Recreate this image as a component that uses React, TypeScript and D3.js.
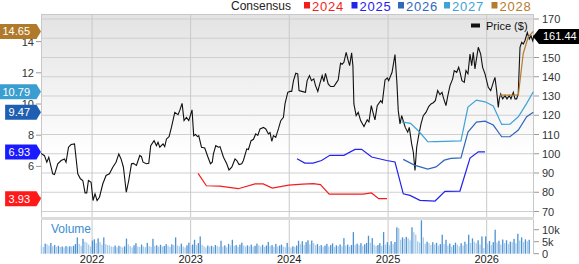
import React from "react";
import * as d3 from "d3";

// ---------- DATA ----------
const priceT = [
  2021.483, 2021.517, 2021.541, 2021.561, 2021.601, 2021.619, 2021.652, 2021.686, 2021.72, 2021.736,
  2021.761, 2021.787, 2021.822, 2021.855, 2021.882, 2021.906, 2021.929, 2021.946, 2021.963, 2021.99,
  2022.01, 2022.03, 2022.051, 2022.075, 2022.109, 2022.142, 2022.176, 2022.21, 2022.243, 2022.271,
  2022.294, 2022.318, 2022.347, 2022.372, 2022.4, 2022.418, 2022.45, 2022.484, 2022.501, 2022.517,
  2022.552, 2022.575, 2022.595, 2022.629, 2022.653, 2022.669, 2022.687, 2022.72, 2022.737, 2022.755,
  2022.781, 2022.805, 2022.839, 2022.872, 2022.889, 2022.913, 2022.933, 2022.957, 2022.981, 2023.014,
  2023.031, 2023.049, 2023.069, 2023.082, 2023.11, 2023.143, 2023.176, 2023.201, 2023.219, 2023.231,
  2023.255, 2023.282, 2023.298, 2023.333, 2023.366, 2023.389, 2023.417, 2023.45, 2023.468, 2023.491,
  2023.518, 2023.535, 2023.569, 2023.586, 2023.613, 2023.637, 2023.66, 2023.681, 2023.704, 2023.738,
  2023.762, 2023.789, 2023.805, 2023.823, 2023.84, 2023.863, 2023.89, 2023.914, 2023.941, 2023.957,
  2023.985, 2024.008, 2024.025, 2024.043, 2024.066, 2024.086, 2024.099, 2024.127, 2024.164, 2024.181,
  2024.205, 2024.225, 2024.248, 2024.266, 2024.289, 2024.309, 2024.333, 2024.35, 2024.367, 2024.394,
  2024.418, 2024.451, 2024.469, 2024.495, 2024.519, 2024.535, 2024.553, 2024.576, 2024.596, 2024.611,
  2024.631, 2024.644, 2024.654, 2024.677, 2024.698, 2024.722, 2024.756, 2024.789, 2024.806, 2024.83,
  2024.847, 2024.867, 2024.89, 2024.925, 2024.941, 2024.969, 2024.992, 2025.006, 2025.04, 2025.07,
  2025.09, 2025.103, 2025.121, 2025.138, 2025.154, 2025.174, 2025.199, 2025.215, 2025.239, 2025.256,
  2025.273, 2025.29, 2025.31, 2025.334, 2025.357, 2025.384, 2025.412, 2025.435, 2025.458, 2025.479,
  2025.503, 2025.526, 2025.547, 2025.56, 2025.587, 2025.604, 2025.628, 2025.655, 2025.671, 2025.696,
  2025.716, 2025.729, 2025.749, 2025.773, 2025.79, 2025.81, 2025.831, 2025.848, 2025.864, 2025.881,
  2025.899, 2025.915, 2025.939, 2025.959, 2025.983, 2026.016, 2026.041, 2026.067, 2026.084, 2026.101,
  2026.118, 2026.128, 2026.142, 2026.162, 2026.186, 2026.206, 2026.229, 2026.246, 2026.27, 2026.287,
  2026.304, 2026.32, 2026.338, 2026.355, 2026.371, 2026.388, 2026.412, 2026.432, 2026.449, 2026.467,
  2026.48,
];
const priceV = [
  100.2, 99, 95.6, 98.2, 89.6, 89.2, 94.8, 96.5, 97.3, 95.6,
  103.4, 104.8, 105.1, 89.6, 87, 86.1, 79.7, 79.7, 86.1, 85.2,
  75.7, 79.2, 75.7, 77.4, 84.4, 88.7, 89.6, 93, 95.6, 99.9,
  97.3, 93, 80, 86.1, 94.8, 95, 93.9, 99.1, 98.5, 95.6,
  94.8, 95, 104.2, 106.8, 104.2, 106, 103.4, 105.1, 103.7, 107.7,
  108.9, 113.7, 121.5, 120.3, 122.4, 126.2, 117.2, 118.9, 117.2, 122.8,
  109.4, 110, 108.9, 109.4, 103.4, 103, 98.2, 94.8, 95.6, 99.9,
  104.2, 103.4, 103.7, 98.2, 94.8, 91.6, 93, 97.3, 96.5, 94.4,
  94.8, 96.5, 102.5, 102.2, 106.8, 107.5, 110.3, 109.5, 112.9, 113.7,
  112.9, 110.3, 111, 106.5, 109.4, 108.5, 112.9, 117.2, 118.9, 125.9,
  131.9, 132.4, 132.4, 138, 141.8, 141.5, 132.8, 132.4, 131.9, 138,
  140.6, 138, 138.9, 135.4, 132.4, 136.3, 140.6, 137.5, 141.8, 136.3,
  134.9, 134.9, 136.3, 138.3, 147, 146.5, 147.5, 152.7, 148.5, 145.8,
  152.4, 145.8, 125.9, 119.8, 121.5, 117.2, 114.1, 117.6, 116.5, 125,
  121.5, 117.6, 125, 127.6, 126.5, 138.3, 139.4, 138, 142.3, 151.5,
  136.3, 122.4, 115.5, 119.8, 117, 113.7, 111.2, 113.7, 105.1, 100.8,
  91.3, 103.4, 109.4, 115.5, 119.8, 121.5, 124.5, 125.9, 126.5, 127.6,
  132.8, 130.7, 131.9, 129.3, 125, 129.7, 135.4, 138.9, 143.2, 142.3,
  144.9, 142.5, 138, 137.1, 143.2, 141.5, 151.8, 145.8, 152.7, 144.1,
  150.1, 155.3, 151.8, 144.9, 141.5, 134.5, 132.8, 137.1, 139.7, 132.8,
  124.1, 128.5, 131.1, 128.5, 130.2, 128.5, 130.2, 128.5, 131.9, 128.5,
  128.5, 131.1, 155.3, 157.9, 157, 158.7, 163, 159.6, 161.3, 158.7,
  161.44,
];

const eps2024T = [2023.075, 2023.16, 2023.295, 2023.483, 2023.653, 2023.736, 2023.828, 2023.995, 2024.137, 2024.243, 2024.316, 2024.404, 2024.573, 2024.745, 2024.832, 2024.905, 2024.989];
const eps2024V = [5.55, 4.76, 4.73, 4.57, 4.88, 4.88, 4.61, 4.8, 4.87, 4.89, 4.83, 4.22, 4.22, 4.22, 4.3, 3.93, 3.93];
const eps2025T = [2024.079, 2024.157, 2024.241, 2024.327, 2024.411, 2024.553, 2024.665, 2024.732, 2024.834, 2024.986, 2025.07, 2025.154, 2025.222, 2025.323, 2025.476, 2025.577, 2025.729, 2025.831, 2025.915, 2025.983];
const eps2025V = [6.49, 6.21, 6.21, 6.38, 6.71, 6.71, 7.09, 7.09, 6.6, 6.38, 6.28, 4.24, 4.14, 3.82, 3.78, 4.4, 4.42, 6.53, 6.93, 6.93];
const eps2026T = [2025.154, 2025.266, 2025.402, 2025.486, 2025.57, 2025.638, 2025.739, 2025.81, 2025.896, 2025.983, 2026.067, 2026.152, 2026.236, 2026.321, 2026.406, 2026.473];
const eps2026V = [6.45, 6.08, 5.83, 5.97, 6.4, 6.51, 6.55, 8.2, 8.84, 8.9, 8.65, 7.9, 7.9, 8.33, 9.18, 9.47];
const eps2027T = [2025.137, 2025.228, 2025.316, 2025.402, 2025.486, 2025.739, 2025.81, 2025.896, 2025.983, 2026.067, 2026.152, 2026.236, 2026.321, 2026.406, 2026.473];
const eps2027V = [8.86, 8.76, 8.22, 7.58, 7.59, 7.64, 9.8, 10.25, 10.14, 9.87, 8.69, 8.71, 9.18, 10.04, 10.79];
const eps2028T = [2026.135, 2026.321, 2026.371, 2026.422, 2026.473];
const eps2028V = [10.57, 10.57, 13.24, 14.31, 14.65];

const seriesNames = ["2024", "2025", "2026", "2027", "2028"];
const seriesColors = ["#f41d1d", "#2323ee", "#2f68bd", "#3ea3d6", "#b57c2c"];
const tagColors = ["#ff1a1a", "#1a1aff", "#1f5fb3", "#3a9ed0", "#b07a2a"];
const tagValues = [3.93, 6.93, 9.47, 10.79, 14.65];
const lastPrice = 161.44;

// weekly volume (thousands), first week starting 2021-06-25
const volumeStart = new Date(2021, 5, 25);
const volume = [
  3.5, 2.8, 4.2, 3.9, 3.4, 4.5, 3.1, 3.6, 2.9, 3.3,
  2.8, 3.0, 2.6, 3.2, 2.9, 3.1, 3.0, 3.3, 4.0, 6.8,
  4.1, 3.3, 6.2, 5.0, 4.6, 3.8, 3.0, 5.5, 6.0, 4.4, 6.4, 4.9, 3.8, 6.8,
  4.0, 3.6, 3.5, 3.0, 2.9, 3.4, 2.7, 3.3, 3.0, 2.6, 3.1, 6.3,
  3.9, 3.2, 2.6, 3.5, 4.4, 3.0, 2.8, 3.8, 3.0, 2.7, 4.5, 3.1, 2.9, 6.2,
  3.3, 3.5, 2.9, 3.7, 3.0, 3.2, 4.0, 3.4, 2.8, 3.9, 3.6, 6.8,
  3.4, 3.1, 4.2, 3.0, 2.6, 3.5, 4.6, 3.3, 3.8, 5.8, 3.6, 4.4, 7.2,
  3.7, 3.1, 2.6, 3.4, 3.0, 3.3, 2.8, 3.6, 3.2, 2.9, 5.4,
  3.0, 3.5, 2.7, 4.1, 3.4, 5.8, 3.2, 3.6, 2.9, 3.8, 4.6, 3.4, 3.0, 3.5, 3.1,
  3.8, 2.9, 3.3, 4.2, 3.5, 3.0, 3.7, 2.8, 3.4, 4.9, 3.2, 3.6, 2.9, 4.1, 3.0, 3.4, 3.8, 3.0, 2.7, 4.5,
  2.9, 2.6, 3.1, 2.8, 3.4, 5.4, 4.0, 5.2,
  3.6, 4.8, 5.6, 3.9, 5.5, 4.4, 3.5, 4.0, 3.2, 3.6,
  2.9, 3.4, 4.1, 3.0, 3.6, 4.3, 2.8, 3.5, 3.2, 3.9, 3.1, 6.5,
  3.4, 3.8, 3.0, 3.6, 9.0, 3.7, 4.2, 3.5, 4.4, 3.3, 3.9, 4.5, 7.5, 4.6, 6.5,
  3.8, 3.2, 3.6, 4.4, 3.3, 9.0, 3.8, 4.8, 3.5, 5.2, 4.0, 4.9, 11.0, 10.6,
  5.8, 6.8, 6.3, 7.0, 6.4, 5.6, 11.0, 9.0, 8.0, 5.2, 4.6, 13.9, 6.8,
  4.2, 5.0, 4.4, 3.6, 4.8, 3.9, 4.5, 3.4, 4.0, 7.9, 4.0, 5.8,
  3.4, 4.2, 2.9, 3.6, 4.6, 3.8, 3.1, 4.4, 3.4, 5.0, 4.0, 7.9, 4.5, 6.4, 5.0,
  4.4, 5.6, 3.8, 7.2, 2.4, 7.2, 4.2, 5.3, 3.6, 4.8, 10.0,
  4.6, 5.4, 3.8, 5.9, 4.4, 5.6, 4.0, 5.0, 4.8, 6.2, 4.4, 8.3,
  5.5, 6.8, 4.9, 6.0, 5.2, 5.8,
];

const yearTicks = [2022, 2023, 2024, 2025, 2026];
const priceTicks = [70, 80, 90, 100, 110, 120, 130, 140, 150, 160, 170];
const epsTicks = [4, 6, 8, 10, 12, 14];
const volTicks = [0, 5, 10];
const volTickLabels = ["0", "5k", "10k"];

// ---------- LAYOUT ----------
const W = 579;
const H = 264;
const L = 41;
const R = 534;
const TOP = 14;
const MAIN_BOTTOM = 217;
const VOL_TOP = 220;
const VOL_BOTTOM = 254;
const FONT = "'Liberation Sans', Arial, Helvetica, sans-serif";

function toDate(t: number): Date {
  const y = Math.floor(t);
  const a = new Date(y, 0, 1).getTime();
  const b = new Date(y + 1, 0, 1).getTime();
  return new Date(a + (t - y) * (b - a));
}

export default function App() {
  const x = d3.scaleTime().domain([toDate(2021.482), toDate(2026.48)]).range([L, R]);
  const yP = d3.scaleLinear().domain([70, 170]).range([211.5, 19]);
  const yE = d3.scaleLinear().domain([4, 14]).range([197.6, 41.6]);
  const yV = d3.scaleLinear().domain([0, 10]).range([253.7, 229.7]);

  const priceLine = d3
    .line<number>()
    .x((_, i) => x(toDate(priceT[i])))
    .y((v) => yP(v));
  const epsLine = (T: number[]) =>
    d3
      .line<number>()
      .x((_, i) => x(toDate(T[i])))
      .y((v) => yE(v));

  const epsSeries = [
    [eps2024T, eps2024V],
    [eps2025T, eps2025V],
    [eps2026T, eps2026V],
    [eps2027T, eps2027V],
    [eps2028T, eps2028V],
  ];

  const volDates = volume.map((_, i) => d3.timeDay.offset(volumeStart, i * 7));
  const barW = 1.3;

  // legend layout (top)
  const legendX = [304, 351.5, 398, 444, 491.5];

  return (
    <svg
      width={W}
      height={H}
      style={{ position: "absolute", left: 0, top: 0, fontFamily: FONT }}
    >
      <defs>
        <linearGradient id="bg" x1="0" y1="0" x2="0" y2="1">
          <stop offset="0%" stopColor="#e3e3e3" />
          <stop offset="70%" stopColor="#ffffff" />
          <stop offset="100%" stopColor="#ffffff" />
        </linearGradient>
        <clipPath id="mainClip">
          <rect x={L} y={TOP} width={R - L} height={MAIN_BOTTOM - TOP} />
        </clipPath>
      </defs>
      <rect x={0} y={0} width={W} height={H} fill="#ffffff" />
      <rect x={L} y={TOP} width={R - L} height={MAIN_BOTTOM - TOP} fill="url(#bg)" />

      {/* horizontal grid */}
      {priceTicks.map((t) => (
        <line key={"hg" + t} x1={L} x2={R} y1={yP(t)} y2={yP(t)} stroke="#cfcfcf" strokeWidth={1} />
      ))}
      {/* vertical grid */}
      {yearTicks.map((y) => (
        <line
          key={"vg" + y}
          x1={x(new Date(y, 0, 1))}
          x2={x(new Date(y, 0, 1))}
          y1={TOP}
          y2={VOL_BOTTOM}
          stroke="#c9c9c9"
          strokeWidth={1}
        />
      ))}
      {/* borders */}
      <line x1={L} x2={R} y1={TOP + 0.5} y2={TOP + 0.5} stroke="#c8c8c8" />
      <line x1={L + 0.5} x2={L + 0.5} y1={TOP} y2={VOL_BOTTOM} stroke="#c8c8c8" />
      <line x1={R - 0.5} x2={R - 0.5} y1={TOP} y2={VOL_BOTTOM} stroke="#c8c8c8" />
      <rect x={L} y={MAIN_BOTTOM} width={R - L} height={VOL_TOP - MAIN_BOTTOM} fill="#dcdcdc" />

      {/* price line + consensus lines */}
      <g clipPath="url(#mainClip)">
        <path d={priceLine(priceV) || ""} fill="none" stroke="#111" strokeWidth={1.1} />
        {epsSeries.map(([T, V], k) => (
          <path
            key={"eps" + k}
            d={epsLine(T as number[])(V as number[]) || ""}
            fill="none"
            stroke={seriesColors[k]}
            strokeWidth={1.2}
          />
        ))}
      </g>

      {/* price legend */}
      <rect x={471} y={23.5} width={9} height={4} fill="#111" />
      <text x={486} y={29.5} fontSize={11} fill="#111">
        Price ($)
      </text>

      {/* volume */}
      {volume.map((v, i) => {
        const bx = x(volDates[i]);
        if (bx > R - 1) return null;
        const dark = i > 0 && v > volume[i - 1];
        return (
          <rect
            key={"v" + i}
            x={bx}
            y={yV(v)}
            width={barW}
            height={yV(0) - yV(v)}
            fill={dark ? "#4d92d3" : "#a9cbea"}
          />
        );
      })}
      <text x={51} y={233} fontSize={12} fill="#3b8dd0">
        Volume
      </text>

      {/* right price axis */}
      {priceTicks.map((t) => (
        <g key={"rp" + t}>
          <line x1={R} x2={R + 5} y1={yP(t)} y2={yP(t)} stroke="#999" />
          <text x={R + 8} y={yP(t) + 4} fontSize={11} fill="#333">
            {t}
          </text>
        </g>
      ))}
      {/* right volume axis */}
      {volTicks.map((t, i) => (
        <g key={"rv" + t}>
          <line x1={R} x2={R + 5} y1={yV(t)} y2={yV(t)} stroke="#999" />
          <text x={R + 8} y={yV(t) + 4} fontSize={11} fill="#333">
            {volTickLabels[i]}
          </text>
        </g>
      ))}
      {/* left eps axis */}
      {epsTicks.map((t) => (
        <g key={"le" + t}>
          <line x1={L - 5} x2={L} y1={yE(t)} y2={yE(t)} stroke="#999" />
          <text x={L - 7} y={yE(t) + 4} fontSize={11} fill="#333" textAnchor="end">
            {t}
          </text>
        </g>
      ))}
      {/* x axis labels */}
      {yearTicks.map((y) => (
        <text
          key={"xl" + y}
          x={x(new Date(y, 0, 1))}
          y={263}
          fontSize={11}
          fill="#222"
          textAnchor="middle"
        >
          {y}
        </text>
      ))}

      {/* left value tags */}
      {tagValues.map((v, k) => {
        const cy = yE(v);
        const label = v.toFixed(2);
        const tw = label.length * 6.1;
        const right = 36.5;
        const left = right - tw - 7;
        const pts = [
          [left, cy - 7.5],
          [right, cy - 7.5],
          [right + 4.5, cy],
          [right, cy + 7.5],
          [left, cy + 7.5],
        ];
        return (
          <g key={"tag" + k}>
            <polygon points={pts.map((p) => p.join(",")).join(" ")} fill={tagColors[k]} />
            <text x={left + 3.5} y={cy + 4} fontSize={11} fill="#fff">
              {label}
            </text>
          </g>
        );
      })}

      {/* right price tag */}
      {(() => {
        const cy = yP(lastPrice) + 1;
        const pts = [
          [R - 1, cy],
          [R + 5, cy - 7.5],
          [W, cy - 7.5],
          [W, cy + 7.5],
          [R + 5, cy + 7.5],
        ];
        return (
          <g>
            <polygon points={pts.map((p) => p.join(",")).join(" ")} fill="#000" />
            <text x={R + 9} y={cy + 4} fontSize={11} fill="#fff">
              {lastPrice.toFixed(2)}
            </text>
          </g>
        );
      })()}

      {/* top legend */}
      <text x={231} y={10} fontSize={12} fill="#222">
        Consensus
      </text>
      {seriesNames.map((n, k) => (
        <g key={"lg" + k}>
          <rect x={legendX[k]} y={2} width={6} height={6.5} fill={seriesColors[k]} />
          <text x={legendX[k] + 8} y={10.5} fontSize={13} letterSpacing={0.8} fill={seriesColors[k]}>
            {n}
          </text>
        </g>
      ))}
    </svg>
  );
}
